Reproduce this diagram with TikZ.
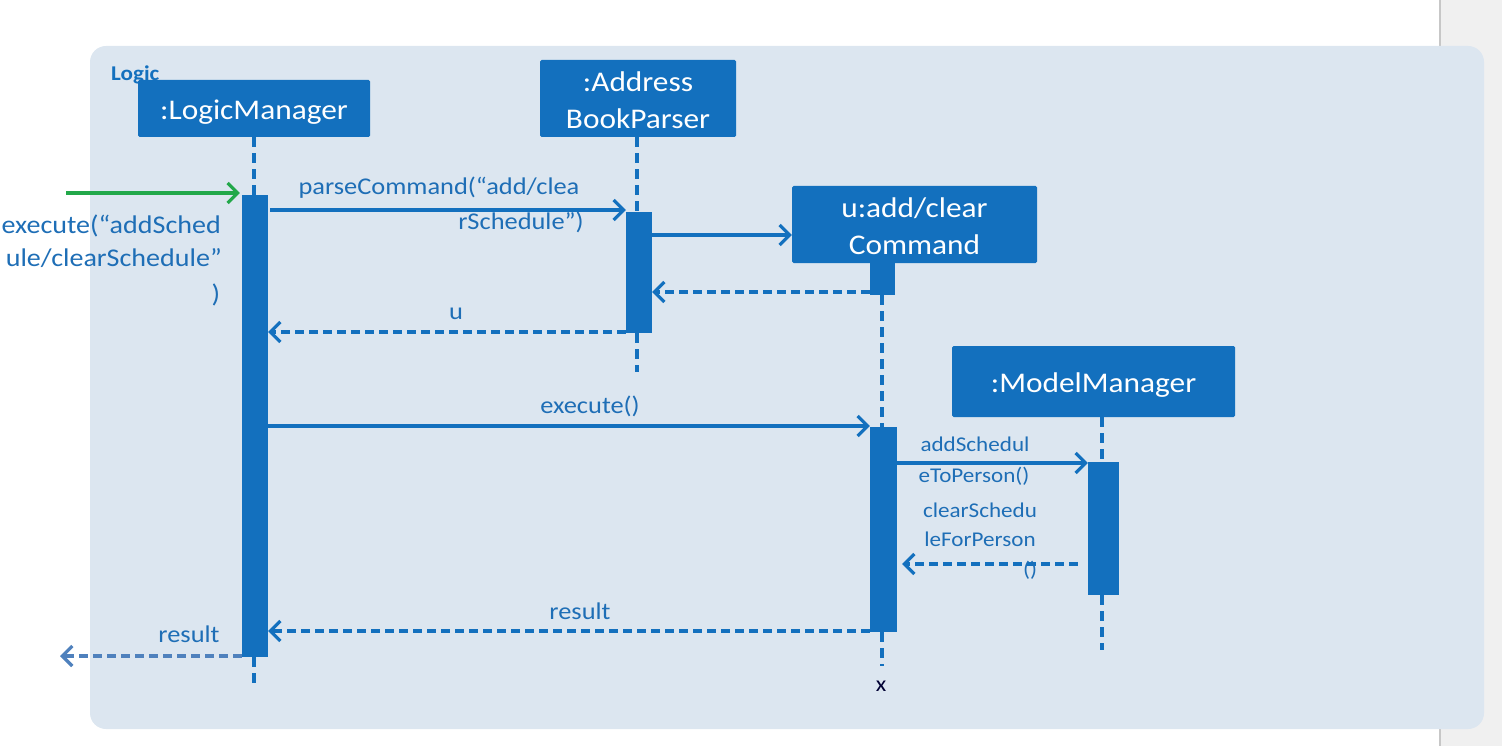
\documentclass[tikz,border=0pt]{standalone}
\usepackage{fontspec}
\setmainfont[FakeStretch=1.1]{Carlito}
\usetikzlibrary{arrows.meta}
\definecolor{panel}{HTML}{DCE6F0}
\definecolor{boxblue}{HTML}{1370BE}
\definecolor{txtblue}{HTML}{1E6EB6}
\definecolor{arrgreen}{HTML}{22A84A}
\definecolor{retblue}{HTML}{4F81BD}
\newcommand{\lowered}[2]{\raisebox{-#1}[\height][\depth]{#2}}
\begin{document}
\begin{tikzpicture}[x=1pt,y=-1pt,
  obj/.style={rectangle, fill=boxblue, text=white, inner sep=0pt, align=center,
    font=\fontsize{28.5}{37}\selectfont, rounded corners=1.5pt},
  actbox/.style={rectangle, fill=boxblue, inner sep=0pt},
  life/.style={draw=boxblue, line width=3.4pt, dash pattern=on 10pt off 6pt},
  msg/.style={draw=boxblue, line width=3.2pt, -{Straight Barb[length=10pt,width=20pt]}},
  ret/.style={msg, dash pattern=on 9pt off 5pt},
  lbl/.style={text=txtblue, inner sep=0pt, font=\fontsize{24}{32}\selectfont, align=center},
  blbl/.style={text=txtblue, inner sep=0pt, font=\fontsize{25.5}{32}\selectfont, align=center},
  slbl/.style={text=txtblue, inner sep=0pt, font=\fontsize{21}{28}\selectfont, align=center}]
\useasboundingbox (0,0) rectangle (1502,746);
% page edge strip
\fill[black!6] (1440,0) rectangle (1502,746);
\draw[black!22, line width=1.5pt] (1440,0) -- (1440,746);
% frame
\fill[panel, rounded corners=16pt] (90,46) rectangle (1484,729);
\node[text=boxblue, font=\bfseries\fontsize{21}{24}\selectfont, anchor=west, inner sep=0pt] (logic) at (111,75) {Logic};
% objects
\node[obj, minimum width=232, minimum height=57] (lm) at (254,108.5) {\lowered{4pt}{:LogicManager}};
\node[obj, minimum width=196, minimum height=77] (abp) at (638,98.5) {\lowered{2pt}{:Address}\\\lowered{2pt}{BookParser}};
\node[obj, minimum width=245, minimum height=77] (cmd) at (914.5,224.5) {\lowered{1.5pt}{u:add/clear}\\\lowered{1.5pt}{Command}};
\node[obj, minimum width=283, minimum height=71] (mm) at (1093.5,381.5) {\lowered{4pt}{:ModelManager}};
% activations
\node[actbox, minimum width=26, minimum height=462] (lmact) at (255,426) {};
\node[actbox, minimum width=26, minimum height=121] (abpact) at (639,272.5) {};
\node[actbox, minimum width=25, minimum height=32] (cmdact1) at (882.5,279) {};
\node[actbox, minimum width=27, minimum height=205] (cmdact2) at (883.5,529.5) {};
\node[actbox, minimum width=31, minimum height=133] (mmact) at (1103.5,528.5) {};
% lifeline end points
\coordinate (lmend) at (254,686);
\coordinate (abpend) at (637,372);
\coordinate (cmdend) at (882,666);
\coordinate (mmend) at (1102,650);
\coordinate (inst) at (66,193);
\coordinate (outt) at (60,656);
% lifelines
\draw[life] (lm.south -| 254,0) -- (lmact.north -| 254,0);
\draw[life] (lmact.south -| 254,0) -- (lmend);
\draw[life] (abp.south -| 637,0) -- (abpact.north -| 637,0);
\draw[life] (abpact.south -| 637,0) -- (abpend);
\draw[life] (cmdact1.south -| 882,0) -- (cmdact2.north -| 882,0);
\draw[life] (cmdact2.south -| 882,0) -- (cmdend);
\draw[life] (mm.south -| 1102,0) -- (mmact.north -| 1102,0);
\draw[life] (mmact.south -| 1102,0) -- (mmend);
\node[text=black!80!blue, font=\fontsize{22}{24}\selectfont, inner sep=0pt] (xmark) at (881,686) {x};
% messages
\draw[msg, draw=arrgreen] (inst) -- ([xshift=-2pt]lmact.north west |- inst);
\draw[msg] ([xshift=2pt]lmact.east |- 0,210) -- (abpact.west |- 0,210);
\draw[msg] (abpact.east |- 0,235) -- (cmd.west |- 0,235);
\draw[ret] (cmdact1.west |- 0,292) -- (abpact.east |- 0,292);
\draw[ret] (abpact.west |- 0,332) -- (lmact.east |- 0,332);
\draw[msg] (lmact.east |- 0,426) -- (cmdact2.west |- 0,426);
\draw[msg] (cmdact2.east |- 0,463) -- (mmact.west |- 0,463);
\draw[ret] ([xshift=-10pt]mmact.west |- 0,564) -- ([xshift=5pt]cmdact2.east |- 0,564);
\draw[ret] (cmdact2.west |- 0,631) -- (lmact.east |- 0,631);
\draw[ret, draw=retblue] (lmact.west |- 0,656) -- (outt);
% labels
\node[blbl, anchor=east] (l1a) at (221,226) {execute(“addSched};
\node[blbl, anchor=east] (l1b) at (222,258) {ule/clearSchedule”};
\node[blbl] (l1c) at (216,295) {)};
\node[lbl] (l2a) at (439,188) {parseCommand(“add/clea};
\node[lbl] (l2b) at (521,222) {rSchedule”)};
\node[lbl] (l3) at (456,314) {u};
\node[lbl] (l4) at (590,406) {execute()};
\node[slbl] (l5a) at (975,444) {addSchedul};
\node[slbl] (l5b) at (974,476) {eToPerson()};
\node[slbl] (l6a) at (980,510) {clearSchedu};
\node[slbl] (l6b) at (980,539) {leForPerson};
\node[slbl] (l6c) at (1030,570) {()};
\node[lbl] (l7) at (580,611) {result};
\node[lbl] (l8) at (189,634) {result};
\end{tikzpicture}
\end{document}
